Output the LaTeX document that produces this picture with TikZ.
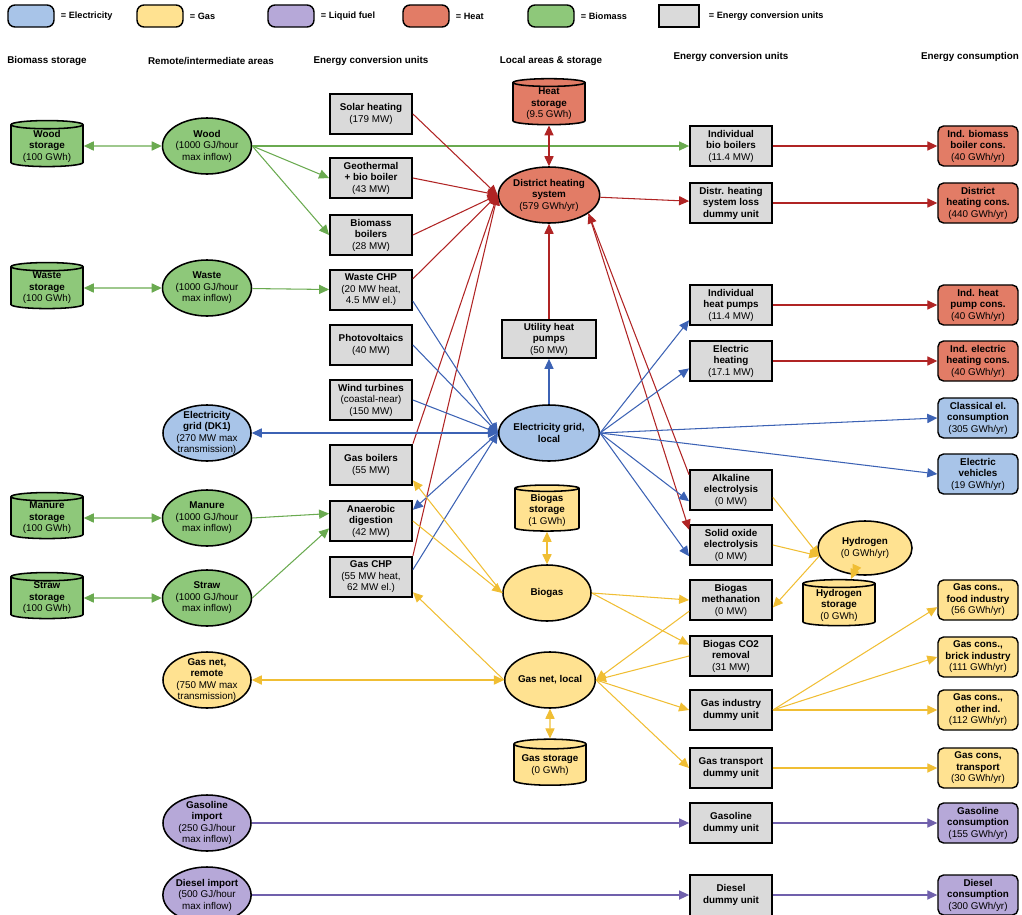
\documentclass[tikz,border=0pt]{standalone}
\usepackage{fontspec}
\setmainfont{Liberation Sans}
\usetikzlibrary{arrows.meta,shapes.geometric}

\definecolor{elfill}{RGB}{168,196,232}
\definecolor{gasfill}{RGB}{255,226,145}
\definecolor{liqfill}{RGB}{182,168,216}
\definecolor{heatfill}{RGB}{226,124,102}
\definecolor{biofill}{RGB}{142,200,122}
\definecolor{unitfill}{RGB}{218,218,218}
\definecolor{elline}{RGB}{60,98,180}
\definecolor{gasline}{RGB}{240,190,52}
\definecolor{liqline}{RGB}{112,96,172}
\definecolor{heatline}{RGB}{176,36,36}
\definecolor{bioline}{RGB}{106,170,80}

\begin{document}
\begin{tikzpicture}[x=0.025cm,y=-0.025cm,
  font=\fontsize{7}{8.2}\selectfont,
  >={Triangle[length=2.5mm,width=2.3mm]},
  convbox/.style={draw,line width=1.3pt,fill=unitfill,minimum width=2.05cm,minimum height=1.02cm,align=center,inner sep=1pt},
  consbox/.style={draw,line width=1pt,rounded corners=4pt,fill=#1,minimum width=2cm,minimum height=1cm,align=center,inner sep=1pt},
  areaell/.style={draw,ellipse,line width=1.1pt,fill=#1,minimum width=2.2cm,minimum height=1.4cm,align=center,inner xsep=0pt,inner ysep=-3pt},
  storcyl/.style={draw,cylinder,shape border rotate=90,aspect=0.17,line width=1.1pt,fill=#1,minimum width=1.8cm,minimum height=1.15cm,align=center,inner sep=0pt},
  legbox/.style={draw,line width=1pt,rounded corners=5pt,fill=#1,minimum width=1.15cm,minimum height=0.55cm},
  legtext/.style={anchor=west,font=\fontsize{6.5}{8}\selectfont\bfseries},
  header/.style={font=\fontsize{7}{8}\selectfont\bfseries},
  bioln/.style={color=bioline,line width=0.75pt},
  heatln/.style={color=heatline,line width=0.75pt},
  elln/.style={color=elline,line width=0.75pt},
  gasln/.style={color=gasline,line width=0.75pt},
  liqln/.style={color=liqline,line width=0.75pt}]
\useasboundingbox (0,0) rectangle (1022,915);

% legend
\node[legbox=elfill] (legel) at (31,16) {};
\node[legtext] (legelt) at (56,16) {= Electricity};
\node[legbox=gasfill] (leggas) at (160,16) {};
\node[legtext] (leggast) at (185,16) {= Gas};
\node[legbox=liqfill] (legliq) at (291,16) {};
\node[legtext] (legliqt) at (316,16) {= Liquid fuel};
\node[legbox=heatfill] (legheat) at (426,16) {};
\node[legtext] (legheatt) at (451,16) {= Heat};
\node[legbox=biofill] (legbio) at (551,16) {};
\node[legtext] (legbiot) at (576,16) {= Biomass};
\node[convbox,minimum width=1cm,minimum height=0.55cm] (legconv) at (679,16) {};
\node[legtext] (legconvt) at (704,16) {= Energy conversion units};

% column headers
\node[header] (h1) at (47,61) {Biomass storage};
\node[header] (h2) at (211,61) {Remote/intermediate areas};
\node[header] (h3) at (371,61) {Energy conversion units};
\node[header] (h4) at (551,61) {Local areas \& storage};
\node[header] (h5) at (731,57) {Energy conversion units};
\node[header] (h6) at (970,57) {Energy consumption};

% biomass storage
\node[storcyl=biofill] (wdst) at (47,146) {\textbf{Wood}\\\textbf{storage}\\(100 GWh)};
\node[storcyl=biofill] (wsst) at (47,288) {\textbf{Waste}\\\textbf{storage}\\(100 GWh)};
\node[storcyl=biofill] (mnst) at (47,518) {\textbf{Manure}\\\textbf{storage}\\(100 GWh)};
\node[storcyl=biofill] (stst) at (47,598) {\textbf{Straw}\\\textbf{storage}\\(100 GWh)};

% remote / intermediate areas
\node[areaell=biofill] (wood) at (207,146) {\textbf{Wood}\\(1000 GJ/hour\\max inflow)};
\node[areaell=biofill] (waste) at (207,288) {\textbf{Waste}\\(1000 GJ/hour\\max inflow)};
\node[areaell=elfill] (dk) at (207,433) {\textbf{Electricity}\\\textbf{grid (DK1)}\\(270 MW max\\transmission)};
\node[areaell=biofill] (manure) at (207,518) {\textbf{Manure}\\(1000 GJ/hour\\max inflow)};
\node[areaell=biofill] (straw) at (207,598) {\textbf{Straw}\\(1000 GJ/hour\\max inflow)};
\node[areaell=gasfill] (gnr) at (207,680) {\textbf{Gas net,}\\\textbf{remote}\\(750 MW max\\transmission)};
\node[areaell=liqfill] (gsi) at (207,823) {\textbf{Gasoline}\\\textbf{import}\\(250 GJ/hour\\max inflow)};
\node[areaell=liqfill] (dsi) at (207,895) {\textbf{Diesel import}\\(500 GJ/hour\\max inflow)};

% conversion units, left
\node[convbox] (solar) at (371,114) {\textbf{Solar heating}\\(179 MW)};
\node[convbox] (geo) at (371,178) {\textbf{Geothermal}\\\textbf{+ bio boiler}\\(43 MW)};
\node[convbox] (bmb) at (371,235) {\textbf{Biomass}\\\textbf{boilers}\\(28 MW)};
\node[convbox] (wchp) at (371,290) {\textbf{Waste CHP}\\(20 MW heat,\\4.5 MW el.)};
\node[convbox] (pv) at (371,345) {\textbf{Photovoltaics}\\(40 MW)};
\node[convbox] (wind) at (371,400) {\textbf{Wind turbines}\\(coastal-near)\\(150 MW)};
\node[convbox] (gb) at (371,465) {\textbf{Gas boilers}\\(55 MW)};
\node[convbox] (ad) at (371,521) {\textbf{Anaerobic}\\\textbf{digestion}\\(42 MW)};
\node[convbox] (gchp) at (371,577) {\textbf{Gas CHP}\\(55 MW heat,\\62 MW el.)};

% local areas and storage
\node[storcyl=heatfill] (hst) at (549,104) {\textbf{Heat}\\\textbf{storage}\\(9.5 GWh)};
\node[areaell=heatfill,minimum width=2.15cm] (dh) at (549,195) {\textbf{District heating}\\\textbf{system}\\(579 GWh/yr)};
\node[convbox,minimum width=2.35cm,minimum height=0.95cm] (uhp) at (549,339) {\textbf{Utility heat}\\\textbf{pumps}\\(50 MW)};
\node[areaell=elfill] (elloc) at (549,433) {\textbf{Electricity grid,}\\\textbf{local}};
\node[storcyl=gasfill,minimum width=1.6cm] (bgst) at (547,510) {\textbf{Biogas}\\\textbf{storage}\\(1 GWh)};
\node[areaell=gasfill] (biogas) at (547,593) {\textbf{Biogas}};
\node[areaell=gasfill] (gnl) at (550,680) {\textbf{Gas net, local}};
\node[storcyl=gasfill] (gst) at (550,765) {\textbf{Gas storage}\\(0 GWh)};

% conversion units, right
\node[convbox] (ibb) at (731,146) {\textbf{Individual}\\\textbf{bio boilers}\\(11.4 MW)};
\node[convbox] (dls) at (731,203) {\textbf{Distr. heating}\\\textbf{system loss}\\\textbf{dummy unit}};
\node[convbox] (ihp) at (731,305) {\textbf{Individual}\\\textbf{heat pumps}\\(11.4 MW)};
\node[convbox] (ehe) at (731,361) {\textbf{Electric}\\\textbf{heating}\\(17.1 MW)};
\node[convbox] (alk) at (731,490) {\textbf{Alkaline}\\\textbf{electrolysis}\\(0 MW)};
\node[convbox] (soec) at (731,545) {\textbf{Solid oxide}\\\textbf{electrolysis}\\(0 MW)};
\node[convbox] (meth) at (731,600) {\textbf{Biogas}\\\textbf{methanation}\\(0 MW)};
\node[convbox] (co2) at (731,656) {\textbf{Biogas CO2}\\\textbf{removal}\\(31 MW)};
\node[convbox] (gid) at (731,710) {\textbf{Gas industry}\\\textbf{dummy unit}};
\node[convbox] (gtd) at (731,768) {\textbf{Gas transport}\\\textbf{dummy unit}};
\node[convbox] (gdu) at (731,823) {\textbf{Gasoline}\\\textbf{dummy unit}};
\node[convbox] (ddu) at (731,895) {\textbf{Diesel}\\\textbf{dummy unit}};

% hydrogen
\node[areaell=gasfill,minimum width=2.35cm,minimum height=1.35cm] (h2) at (865,548) {\textbf{Hydrogen}\\(0 GWh/yr)};
\node[storcyl=gasfill] (h2st) at (839,605) {\textbf{Hydrogen}\\\textbf{storage}\\(0 GWh)};

% consumption
\node[consbox=heatfill] (ibc) at (978,146) {\textbf{Ind. biomass}\\\textbf{boiler cons.}\\(40 GWh/yr)};
\node[consbox=heatfill] (dhc) at (978,203) {\textbf{District}\\\textbf{heating cons.}\\(440 GWh/yr)};
\node[consbox=heatfill] (ihc) at (978,305) {\textbf{Ind. heat}\\\textbf{pump cons.}\\(40 GWh/yr)};
\node[consbox=heatfill] (iec) at (978,361) {\textbf{Ind. electric}\\\textbf{heating cons.}\\(40 GWh/yr)};
\node[consbox=elfill] (cel) at (978,418) {\textbf{Classical el.}\\\textbf{consumption}\\(305 GWh/yr)};
\node[consbox=elfill] (ev) at (978,474) {\textbf{Electric}\\\textbf{vehicles}\\(19 GWh/yr)};
\node[consbox=gasfill] (gfood) at (978,600) {\textbf{Gas cons.,}\\\textbf{food industry}\\(56 GWh/yr)};
\node[consbox=gasfill] (gbrick) at (978,657) {\textbf{Gas cons.,}\\\textbf{brick industry}\\(111 GWh/yr)};
\node[consbox=gasfill] (gother) at (978,710) {\textbf{Gas cons.,}\\\textbf{other ind.}\\(112 GWh/yr)};
\node[consbox=gasfill] (gtrans) at (978,768) {\textbf{Gas cons,}\\\textbf{transport}\\(30 GWh/yr)};
\node[consbox=liqfill] (gcons) at (978,823) {\textbf{Gasoline}\\\textbf{consumption}\\(155 GWh/yr)};
\node[consbox=liqfill] (dcons) at (978,895) {\textbf{Diesel}\\\textbf{consumption}\\(300 GWh/yr)};

% biomass flows
\draw[bioln,<->] (wdst) -- (wood);
\draw[bioln,<->] (wsst) -- (waste);
\draw[bioln,<->] (mnst) -- (manure);
\draw[bioln,<->] (stst) -- (straw);
\draw[bioln,->] (wood.east) -- (ibb.west);
\draw[bioln,->] (wood.east) -- (geo.west);
\draw[bioln,->] (wood.east) -- (bmb.west);
\draw[bioln,->] (waste) -- (wchp);
\draw[bioln,->] (manure.east) -- (ad.170);
\draw[bioln,->] (straw.east) -- (ad.190);

% heat flows
\draw[heatln,->] (solar.east) -- (dh.west);
\draw[heatln,->] (geo.east) -- (dh.west);
\draw[heatln,->] (bmb.east) -- (dh.west);
\draw[heatln,->] (wchp.15) -- (dh.west);
\draw[heatln,->] (gb.north east) -- (dh.west);
\draw[heatln,->] (gchp.north east) -- (dh.west);
\draw[heatln,<->] (hst) -- (dh);
\draw[heatln,->] (uhp) -- (dh);
\draw[heatln,->] (dh) -- (dls);
\draw[heatln,->] (alk.160) -- (dh.-25);
\draw[heatln,->] (dh.-25) -- (soec.160);
\draw[heatln,->] (ibb) -- (ibc);
\draw[heatln,->] (dls) -- (dhc);
\draw[heatln,->] (ihp) -- (ihc);
\draw[heatln,->] (ehe) -- (iec);

% electricity flows
\draw[elln,->] (wchp.-15) -- (elloc.west);
\draw[elln,->] (pv.east) -- (elloc.west);
\draw[elln,->] (wind.east) -- (elloc.west);
\draw[elln,->] (gchp.10) -- (elloc.west);
\draw[elln,->] (elloc.west) -- (ad.15);
\draw[elln,<->] (elloc.west) -- (dk.east);
\draw[elln,->] (elloc) -- (uhp);
\draw[elln,->] (elloc.east) -- (ihp.200);
\draw[elln,->] (elloc.east) -- (ehe.190);
\draw[elln,->] (elloc.east) -- (cel.west);
\draw[elln,->] (elloc.east) -- (ev.west);
\draw[elln,->] (elloc.east) -- (alk.195);
\draw[elln,->] (elloc.east) -- (soec.195);

% gas flows
\draw[gasln,<->] (gnr) -- (gnl);
\draw[gasln,<->] (gnl) -- (gst);
\draw[gasln,<->] (bgst) -- (biogas);
\draw[gasln,->] (ad.east) -- (biogas.west);
\draw[gasln,->] (biogas.west) -- (gb.-20);
\draw[gasln,->] (gnl.west) -- (gchp.-20);
\draw[gasln,->] (biogas.east) -- (meth.west);
\draw[gasln,->] (biogas.east) -- (co2.165);
\draw[gasln,->] (meth.195) -- (gnl.east);
\draw[gasln,->] (co2.west) -- (gnl.east);
\draw[gasln,->] (gnl.east) -- (gid.west);
\draw[gasln,->] (gnl.east) -- (gtd.west);
\draw[gasln,->] (alk.-10) -- (h2.190);
\draw[gasln,->] (soec.east) -- (h2.190);
\draw[gasln,->] (h2.190) -- (meth.-10);
\draw[gasln,<->] (h2) -- (h2st);
\draw[gasln,->] (gid.east) -- (gfood.190);
\draw[gasln,->] (gid.east) -- (gbrick.west);
\draw[gasln,->] (gid.east) -- (gother.west);
\draw[gasln,->] (gtd) -- (gtrans);

% liquid fuel flows
\draw[liqln,->] (gsi) -- (gdu);
\draw[liqln,->] (gdu) -- (gcons);
\draw[liqln,->] (dsi) -- (ddu);
\draw[liqln,->] (ddu) -- (dcons);
\end{tikzpicture}
\end{document}
